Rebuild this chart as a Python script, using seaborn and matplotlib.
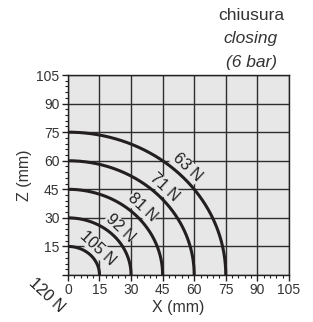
import numpy as np
import pandas as pd
import matplotlib
matplotlib.use("Agg")
import matplotlib.pyplot as plt
import seaborn as sns

# stroke radii (mm) and the holding force at each
radii = [15, 30, 45, 60, 75]
forces = ["105 N", "92 N", "81 N", "71 N", "63 N"]
origin_force = "120 N"
ticks = [0, 15, 30, 45, 60, 75, 90, 105]
title_lines = ["chiusura", "closing", "(6 bar)"]

sns.set_theme(style="white")
plt.rcParams["font.family"] = ["Liberation Sans", "DejaVu Sans"]

ink = "#231f20"
face = "#e6e7e6"

fig = plt.figure(figsize=(3.13, 3.22), dpi=100)
ax = fig.add_axes([0.217, 0.146, 0.706, 0.621])
ax.set_facecolor(face)

theta = np.linspace(0, np.pi / 2, 200)
rows = []
for r, f in zip(radii, forces):
    for t in theta:
        rows.append({"x": r * np.cos(t), "z": r * np.sin(t), "force": f})
df = pd.DataFrame(rows)
sns.lineplot(data=df, x="x", y="z", units="force", estimator=None, sort=False,
             color=ink, lw=2.2, ax=ax, zorder=3)

ax.set_xlim(0, 105)
ax.set_ylim(0, 105)
ax.set_xticks(ticks)
ax.set_yticks(ticks)
ax.set_yticklabels([""] + [str(t) for t in ticks[1:]])
ax.set_xticks(np.arange(0, 106, 3), minor=True)
ax.set_yticks(np.arange(0, 106, 3), minor=True)
ax.grid(True, which="major", color="#2e2e2e", lw=1.0, zorder=1)
ax.set_axisbelow(True)
ax.tick_params(which="major", direction="out", length=4, width=1, color=ink,
               labelsize=10, labelcolor="#333333", pad=2, bottom=True, left=True)
ax.tick_params(which="minor", direction="out", length=2.5, width=0.8, color=ink,
               bottom=True, left=True)
for s in ax.spines.values():
    s.set_color(ink)
    s.set_linewidth(1.0)

ax.set_xlabel("X (mm)", fontsize=11.5, color="#333333", labelpad=2)
ax.set_ylabel("Z (mm)", fontsize=11.5, color="#333333", labelpad=3)

for r, f in zip(radii, forces):
    d = (r + 5) / np.sqrt(2)
    ax.text(d, d, f, rotation=-43, ha="center", va="center", fontsize=11.5,
            color=ink, zorder=4,
            bbox=dict(boxstyle="square,pad=0.02", fc=face, ec="none"))
ax.text(-10, -10.5, origin_force, rotation=-43, ha="center", va="center",
        fontsize=11.5, color=ink, clip_on=False)

styles = ["normal", "italic", "italic"]
for i, (line, st) in enumerate(zip(title_lines, styles)):
    fig.text(251 / 313, 1 - (15 + i * 23.5) / 322, line, ha="center", va="center",
             fontsize=12.5, style=st, color="#333333")

fig.savefig("out.png", dpi=100)
